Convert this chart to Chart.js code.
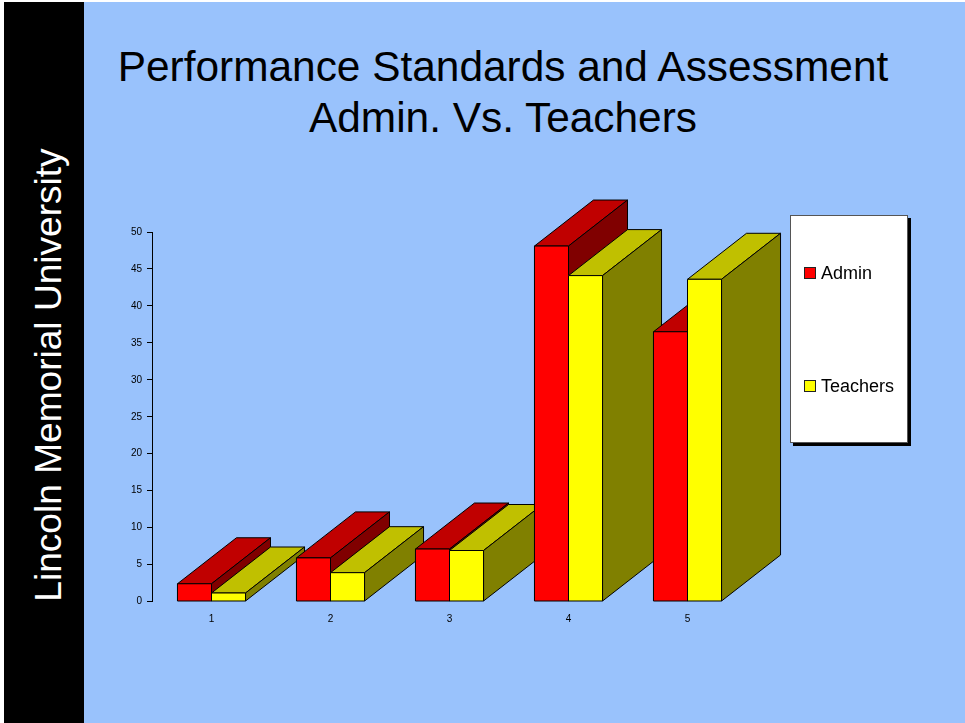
<!DOCTYPE html>
<html>
<head>
<meta charset="utf-8">
<title>Performance Standards and Assessment</title>
<script src="https://cdn.jsdelivr.net/npm/chart.js@4"></script>
<style>
  html, body { margin: 0; padding: 0; background: #fff; }
  body { width: 965px; height: 723px; overflow: hidden; position: relative; font-family: "Liberation Sans", Arial, sans-serif; }
  .slide { position: absolute; left: 4px; top: 2px; width: 961px; height: 721px; background: #99c2fc; }
  .side { position: absolute; left: 4px; top: 2px; width: 80px; height: 721px; background: #000; }
  .side span { position: absolute; left: 44px; top: 372.5px; transform: translate(-50%, -50%) rotate(-90deg); color: #fff; font-size: 37.1px; white-space: nowrap; }
  h1 { position: absolute; left: 84px; top: 41px; width: 838px; margin: 0; text-align: center; font-weight: normal; font-size: 42.4px; line-height: 51px; color: #000; }
  canvas { position: absolute; left: 0; top: 0; }
  .legend { position: absolute; left: 790px; top: 215px; width: 116px; height: 226px; background: #fff; border: 1px solid #555; box-shadow: 3px 3px 0 #000; }
  .legend div { position: absolute; left: 13px; font-size: 18px; line-height: 20px; white-space: nowrap; }
  .legend i { display: inline-block; width: 10px; height: 10px; border: 1px solid #222; margin-right: 5px; }
</style>
</head>
<body>
<div class="slide"></div>
<div class="side"><span>Lincoln Memorial University</span></div>
<h1>Performance Standards and Assessment<br>Admin. Vs. Teachers</h1>
<canvas id="myChart" width="965" height="723"></canvas>
<div class="legend" id="legend"></div>
<script>
const categories = ['1', '2', '3', '4', '5'];
const adminValues = [2.4, 5.9, 7.1, 48.1, 36.5];
const teacherValues = [1.15, 3.9, 6.9, 44.1, 43.6];
const seriesNames = ['Admin', 'Teachers'];
const yTicks = [0, 5, 10, 15, 20, 25, 30, 35, 40, 45, 50];

const frontColors = ['#ff0000', '#ffff00'];
const topColors = ['#c00000', '#c0c000'];
const sideColors = ['#800000', '#808000'];

// Old Excel style 3D depth
const depthX = 59;
const depthY = -46;

function face(ctx, pts, color) {
  ctx.beginPath();
  pts.forEach((p, i) => i ? ctx.lineTo(p[0], p[1]) : ctx.moveTo(p[0], p[1]));
  ctx.closePath();
  ctx.fillStyle = color;
  ctx.fill();
  ctx.stroke();
}

// Redraws each bar as a box, left to right so nearer boxes overlap properly
const box3d = {
  id: 'box3d',
  afterDatasetsDraw(chart) {
    const ctx = chart.ctx;
    ctx.save();
    ctx.lineWidth = 1;
    ctx.strokeStyle = '#000';
    ctx.lineJoin = 'round';
    categories.forEach((c, i) => {
      chart.data.datasets.forEach((ds, d) => {
        const bar = chart.getDatasetMeta(d).data[i];
        const l = bar.x - bar.width / 2;
        const r = bar.x + bar.width / 2;
        const t = bar.y;
        const b = bar.base;
        face(ctx, [[l, t], [r, t], [r + depthX, t + depthY], [l + depthX, t + depthY]], topColors[d]);
        face(ctx, [[r, t], [r, b], [r + depthX, b + depthY], [r + depthX, t + depthY]], sideColors[d]);
        face(ctx, [[l, t], [r, t], [r, b], [l, b]], frontColors[d]);
      });
    });
    ctx.restore();
  }
};

new Chart(document.getElementById('myChart').getContext('2d'), {
  type: 'bar',
  data: {
    labels: categories,
    datasets: [
      { label: seriesNames[0], data: adminValues, backgroundColor: frontColors[0] },
      { label: seriesNames[1], data: teacherValues, backgroundColor: frontColors[1] }
    ]
  },
  plugins: [box3d],
  options: {
    responsive: false,
    animation: false,
    layout: { padding: { left: 120, right: 218, top: 232, bottom: 91.5 } },
    datasets: { bar: { categoryPercentage: 0.572, barPercentage: 1 } },
    plugins: { legend: { display: false }, title: { display: false }, tooltip: { enabled: false } },
    scales: {
      x: {
        afterFit: (scale) => { scale.height = 30; },
        grid: { display: false },
        border: { display: false },
        ticks: { color: '#000', font: { family: 'Liberation Sans', size: 10 }, padding: 4, maxRotation: 0 }
      },
      y: {
        min: 0,
        max: 50,
        afterFit: (scale) => { scale.width = 32; },
        afterBuildTicks: (scale) => { scale.ticks = yTicks.map(v => ({ value: v })); },
        grid: { drawOnChartArea: false, color: '#000', tickLength: 5 },
        border: { display: true, color: '#000' },
        ticks: { color: '#000', font: { family: 'Liberation Sans', size: 10 }, padding: 5 }
      }
    }
  }
});

// Legend box
const legendTops = [47, 160];
const legend = document.getElementById('legend');
seriesNames.forEach((name, i) => {
  const row = document.createElement('div');
  row.style.top = legendTops[i] + 'px';
  row.innerHTML = '<i style="background:' + frontColors[i] + '"></i>' + name;
  legend.appendChild(row);
});
</script>
</body>
</html>
